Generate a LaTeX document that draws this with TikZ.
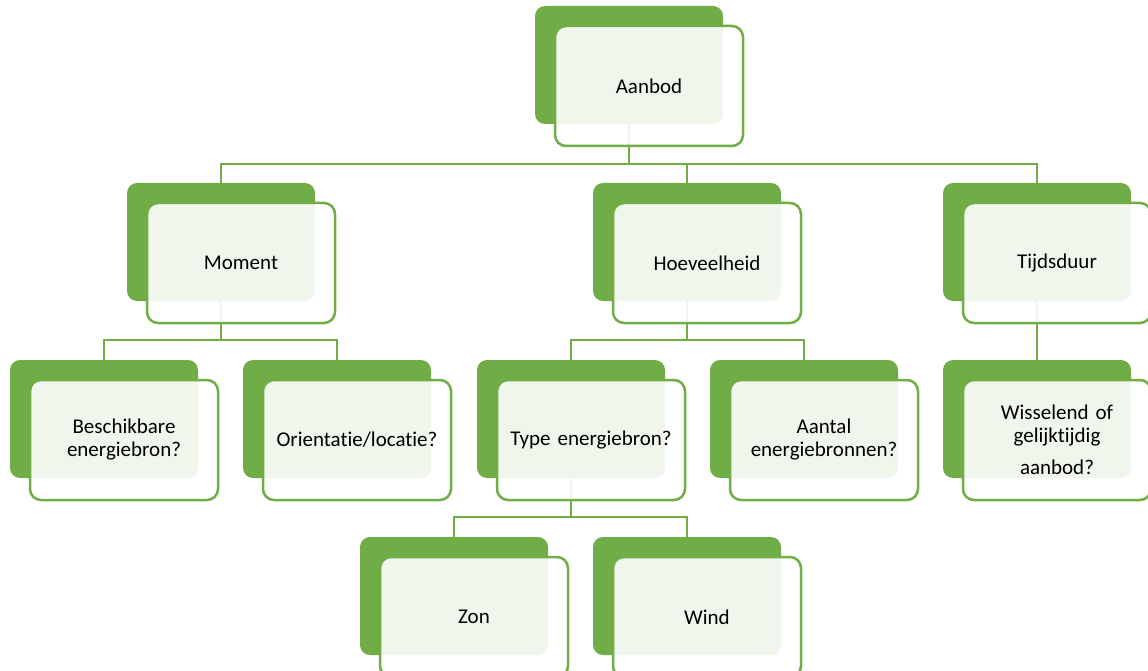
\documentclass[tikz,border=0pt]{standalone}
\usepackage{fontspec}
\setmainfont{Carlito}[Ligatures=NoCommon]
\usetikzlibrary{backgrounds,calc}
\definecolor{dgreen}{HTML}{70AD47}
\tikzset{
  darkbox/.style={rectangle, rounded corners=10pt, fill=dgreen, draw=none,
    minimum width=188pt, minimum height=118pt, anchor=north west, inner sep=0pt, outer sep=0pt},
  frontbox/.style={rectangle, rounded corners=11pt, draw=dgreen, line width=2.5pt,
    fill=white, fill opacity=0.9, text opacity=1, text=black,
    minimum width=188pt, minimum height=120pt, anchor=north west,
    inner sep=0pt, outer sep=0pt, align=center, text width=180pt,
    font=\fontsize{21}{23}\selectfont},
  conn/.style={draw=dgreen, line width=2.5pt}
}
\newcommand{\mybox}[4]{%
  \node[darkbox] (#1D) at (#2,#3) {};
  \node[frontbox] (#1) at ($(#2,#3)+(20,20)$) {#4};
}
\begin{document}
\begin{tikzpicture}[x=1pt,y=-1pt]
\path[use as bounding box, clip] (0,0) rectangle (1148,671);
\mybox{aanbod}{535}{6}{Aanbod}
\mybox{moment}{127}{183}{Moment}
\mybox{hoev}{593}{183}{Hoeveelheid}
\mybox{tijd}{943}{183}{Tijdsduur}
\mybox{besch}{10}{360}{Beschikbare\\energiebron?}
\mybox{orient}{243}{360}{Orientatie/locatie?}
\mybox{type}{477}{360}{Type energiebron?}
\mybox{aantal}{710}{360}{Aantal\\energiebronnen?}
\mybox{wissel}{943}{360}{Wisselend of\\gelijktijdig\\[9pt]aanbod?}
\mybox{zon}{360}{537}{Zon}
\mybox{wind}{593}{537}{Wind}
\begin{scope}[on background layer]
  \draw[conn] (aanbodD.south) -- ++(0,-40pt) coordinate (b1);
  \draw[conn] (momentD.north) |- (b1) -| (tijdD.north);
  \draw[conn] (b1) -| (hoevD.north);
  \draw[conn] (momentD.south) -- ++(0,-39pt) coordinate (b2);
  \draw[conn] (beschD.north) |- (b2) -| (orientD.north);
  \draw[conn] (hoevD.south) -- ++(0,-39pt) coordinate (b3);
  \draw[conn] (typeD.north) |- (b3) -| (aantalD.north);
  \draw[conn] (tijdD.south) -- (wisselD.north);
  \draw[conn] (typeD.south) -- ++(0,-39pt) coordinate (b4);
  \draw[conn] (zonD.north) |- (b4) -| (windD.north);
\end{scope}
\end{tikzpicture}
\end{document}
